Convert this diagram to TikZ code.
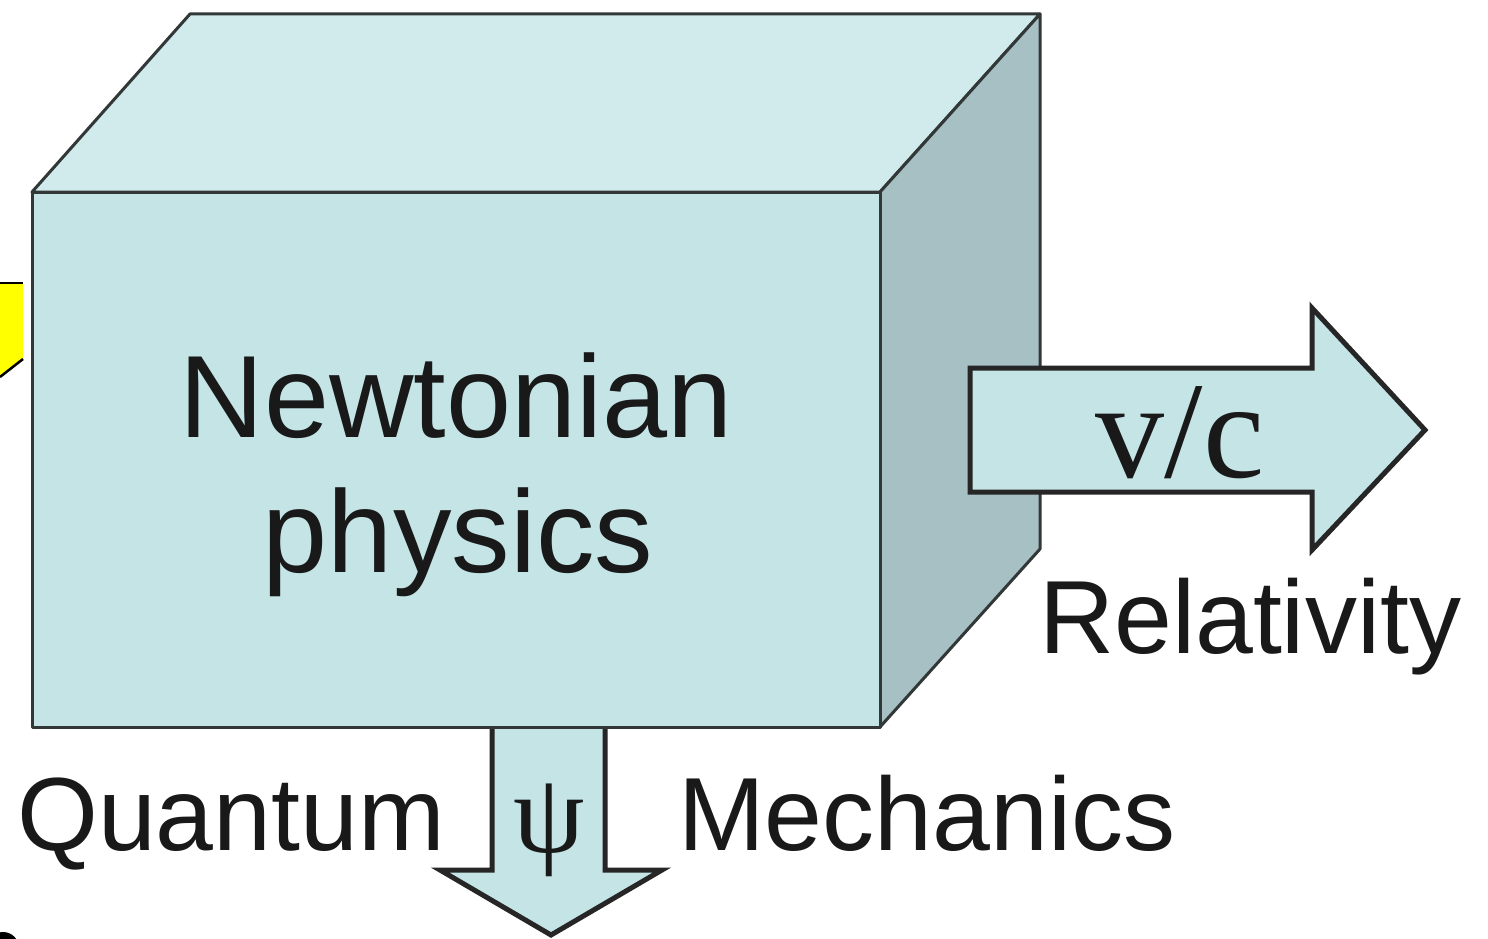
\documentclass[tikz,border=0pt]{standalone}
\usepackage{fontspec}
\setmainfont{Liberation Sans}
\newfontfamily\serifgr{Liberation Serif}
\definecolor{frontc}{RGB}{196,228,230}
\definecolor{topc}{RGB}{209,234,236}
\definecolor{sidec}{RGB}{166,192,196}
\definecolor{edgec}{RGB}{50,55,55}
\definecolor{yel}{RGB}{255,255,0}
\definecolor{txtc}{RGB}{25,25,25}
\begin{document}
\begin{tikzpicture}[x=1pt,y=-1pt,
  face/.style={draw=edgec,line width=3pt,line join=round},
  arrowbody/.style={fill=frontc,draw=black!85,line width=5pt,line join=miter},
  lbl/.style={inner sep=0pt,text=txtc,font=\fontsize{104}{120}\selectfont},
  bigtxt/.style={inner sep=0pt,text=txtc,font=\fontsize{117}{135}\selectfont}]
\useasboundingbox (0,0) rectangle (1488,939);
\fill[white] (0,0) rectangle (1488,939);
% yellow fragment
\fill[yel] (0,283) -- (23,283) -- (23,359) -- (0,377) -- cycle;
\draw[black,line width=2.5pt] (0,283) -- (23,283);
\draw[black,line width=2.5pt] (23,359) -- (0,377);
% cube
\coordinate (ftl) at (32,192);
\coordinate (ftr) at (880,192);
\coordinate (fbr) at (880,727);
\coordinate (fbl) at (32,727);
\coordinate (btl) at (190,14);
\coordinate (btr) at (1040,14);
\coordinate (bbr) at (1040,549);
\filldraw[face,fill=topc] (ftl) -- (btl) -- (btr) -- (ftr) -- cycle;
\filldraw[face,fill=sidec] (ftr) -- (btr) -- (bbr) -- (fbr) -- cycle;
% down arrow (behind front face edge)
\coordinate (da1) at (492,727);
\coordinate (da2) at (605,727);
\filldraw[arrowbody] (da1) -- (492,870) -- (440,870) -- (551,935) -- (662,870) -- (605,870) -- (da2);
\filldraw[face,fill=frontc] (ftl) -- (ftr) -- (fbr) -- (fbl) -- cycle;
% right arrow
\coordinate (ra) at (970,368);
\filldraw[arrowbody] (ra) -- (1312,368) -- (1312,308) -- (1425,430) -- (1312,550) -- (1312,492) -- (970,492) -- cycle;
% texts
\node[bigtxt,anchor=base] (newton) at (456,437) {Newtonian};
\node[bigtxt,anchor=base] (phys) at (458,572) {physics};
\node[lbl,anchor=base west] (quant) at (17,850) {Quantum};
\node[lbl,anchor=base west] (mech) at (678,850) {Mechanics};
\node[lbl,anchor=base west] (rel) at (1039,653) {Relativity};
\node[inner sep=0pt,anchor=base,text=txtc,font=\serifgr\fontsize{138}{150}\selectfont] (vc) at (1180,477) {v/c};
\node[inner sep=0pt,text=txtc,font=\serifgr\fontsize{114}{130}\selectfont] (psi) at (549,830) {ψ};
% bottom-left fragment
\begin{scope}
\clip (0,0) rectangle (1488,939);
\fill[black] (3,948) circle (16);
\end{scope}
\end{tikzpicture}
\end{document}
